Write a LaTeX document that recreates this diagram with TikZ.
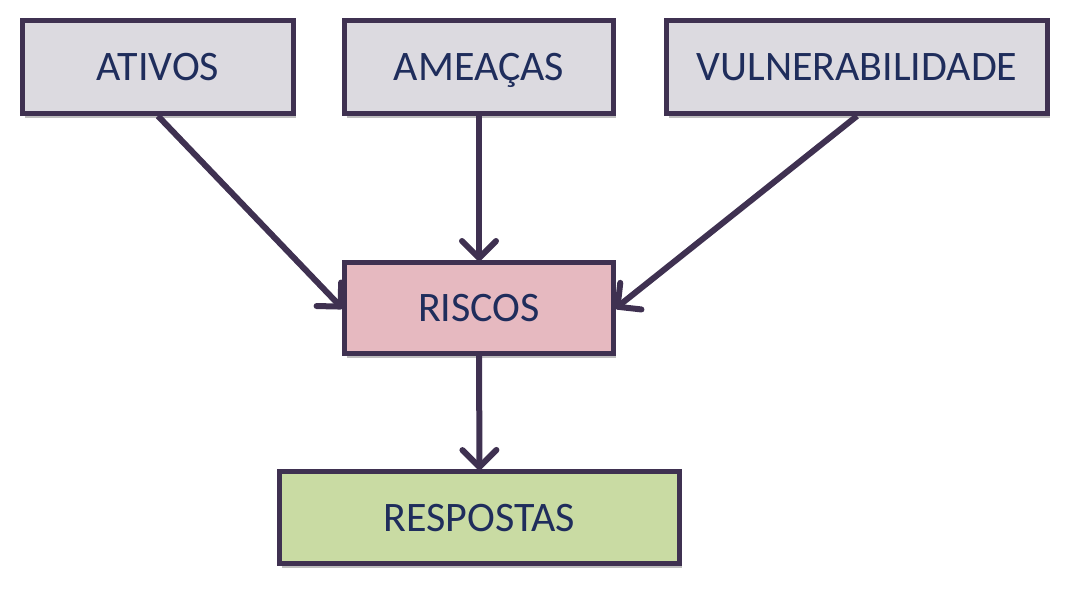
\documentclass[tikz,border=0pt]{standalone}
\usepackage{fontspec}
\setmainfont{Carlito}
\usetikzlibrary{arrows.meta,shadows}
\definecolor{bordc}{HTML}{3F3151}
\definecolor{grayf}{HTML}{DCDAE0}
\definecolor{pinkf}{HTML}{E6B9C0}
\definecolor{greenf}{HTML}{C9DBA3}
\definecolor{txtc}{HTML}{1F2D5C}
\begin{document}
\begin{tikzpicture}[x=1pt,y=-1pt,
  box/.style={draw=bordc,line width=5pt,minimum height=93pt,inner sep=0pt,
    font=\fontsize{42}{46}\selectfont,text=txtc,text height=27pt,text depth=0pt,
    drop shadow={shadow xshift=2pt,shadow yshift=-4pt,opacity=0.25,fill=black}},
  conn/.style={draw=bordc,line width=6pt,shorten >=-1pt,-{Straight Barb[length=17pt,width=34pt,line width=6pt,round]}}]
\useasboundingbox (0,0) rectangle (1067,589);
\node[box,fill=grayf,minimum width=271pt] (a) at (158,67) {ATIVOS};
\node[box,fill=grayf,minimum width=269pt] (b) at (479,67) {AMEAÇAS};
\node[box,fill=grayf,minimum width=381pt] (c) at (857,67) {VULNERABILIDADE};
\node[box,fill=pinkf,minimum width=269pt,minimum height=91pt] (r) at (479,308) {RISCOS};
\node[box,fill=greenf,minimum width=400pt,minimum height=92pt] (s) at (479.5,517.5) {RESPOSTAS};
\draw[conn] (a.south) -- (r.west);
\draw[conn] (b.south) -- (r.north);
\draw[conn] (c.south) -- (r.east);
\draw[conn] (r.south) -- (s.north);
\end{tikzpicture}
\end{document}
